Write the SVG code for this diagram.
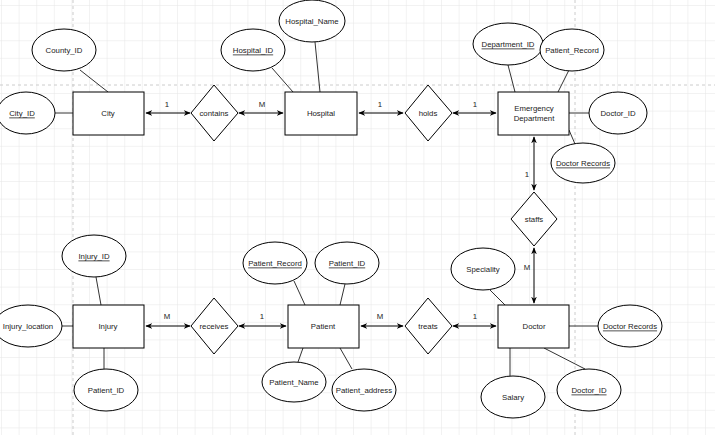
<svg xmlns="http://www.w3.org/2000/svg" width="715" height="435" viewBox="0 0 715 435">
<defs>
<pattern id="g" width="17.6" height="17.6" patternUnits="userSpaceOnUse" x="2" y="6"><path d="M17.6 0V17.6M0 17.6H17.6" fill="none" stroke="#e6e6e6" stroke-width="1"/></pattern>
<marker id="a" viewBox="0 0 10 10" refX="9" refY="5" markerWidth="7" markerHeight="7" orient="auto-start-reverse"><path d="M0 1L10 5L0 9L3 5Z" fill="#000"/></marker>
</defs>
<style>
.e{fill:#fff;stroke:#000;stroke-width:1}
.r{fill:#fff;stroke:#000;stroke-width:1}
.t{font-family:"Liberation Sans",Arial,sans-serif;font-size:7.8px;text-anchor:middle;dominant-baseline:central;fill:#222}
.u{text-decoration:underline}
.l{stroke:#333;stroke-width:1;fill:none}
.c{stroke:#000;stroke-width:1;fill:none;marker-start:url(#a);marker-end:url(#a)}
</style>
<rect width="715" height="435" fill="#fff"/>
<rect width="715" height="435" fill="url(#g)"/>
<g stroke="#ccc" stroke-dasharray="3,3"><path d="M73 0V435M575 0V435M0 85H715"/></g>
<g id="connectors">
<path class="l" d="M55 113H73M80 70L108 92M272 68L293 92M315 42L320 92M508 65L515 92M569 70L558 92M569 113H589M569 130L575 144M62 326H73M96 277L101 305M104 348V369M294 281L305 305M345 284L340 305M303 348L298 362M340 348L352 369M490 290L505 305M569 326H598M510 348V376M544 348L585 369"/>
<path class="c" d="M146 113H190"/><path class="c" d="M239 113H283"/>
<path class="c" d="M359 113H403"/><path class="c" d="M453 113H496"/>
<path class="c" d="M534 137V190"/><path class="c" d="M534 248V303"/>
<path class="c" d="M146 326H190"/><path class="c" d="M239 326H286"/>
<path class="c" d="M361 326H403"/><path class="c" d="M453 326H496"/>
<text class="t" x="167" y="104">1</text><text class="t" x="262" y="104">M</text>
<text class="t" x="380" y="104">1</text><text class="t" x="475" y="104">1</text>
<text class="t" x="527" y="174">1</text><text class="t" x="527" y="267">M</text>
<text class="t" x="167" y="316">M</text><text class="t" x="262" y="316">1</text>
<text class="t" x="380" y="316">M</text><text class="t" x="475" y="316">1</text>
</g>
<g id="city"><rect class="r" x="73" y="92" width="71" height="43"/><text class="t" x="108" y="113">City</text></g>
<g id="city_id"><ellipse class="e" cx="26" cy="113" rx="29" ry="21"/><text class="t u" x="22" y="113">City_ID</text></g>
<g id="county_id"><ellipse class="e" cx="64" cy="50" rx="32" ry="21"/><text class="t" x="64" y="50">County_ID</text></g>
<g id="contains"><path class="r" d="M214 85L238 113L214 141L191 113Z"/><text class="t" x="214" y="113">contains</text></g>
<g id="hospital"><rect class="r" x="285" y="92" width="72" height="43"/><text class="t" x="321" y="113">Hospital</text></g>
<g id="hospital_id"><ellipse class="e" cx="253" cy="50" rx="32" ry="21"/><text class="t u" x="253" y="50">Hospital_ID</text></g>
<g id="hospital_name"><ellipse class="e" cx="312" cy="21" rx="33" ry="21"/><text class="t" x="312" y="21">Hospital_Name</text></g>
<g id="holds"><path class="r" d="M428 85L452 113L428 141L405 113Z"/><text class="t" x="428" y="113">holds</text></g>
<g id="ed"><rect class="r" x="498" y="92" width="71" height="43"/><text class="t" x="534" y="108">Emergency</text><text class="t" x="534" y="118">Department</text></g>
<g id="department_id"><ellipse class="e" cx="508" cy="44" rx="35" ry="21"/><text class="t u" x="508" y="44">Department_ID</text></g>
<g id="patient_record_ed"><ellipse class="e" cx="572" cy="50" rx="32" ry="21"/><text class="t" x="572" y="50">Patient_Record</text></g>
<g id="doctor_id_ed"><ellipse class="e" cx="618" cy="113" rx="29" ry="21"/><text class="t" x="618" y="113">Doctor_ID</text></g>
<g id="doctor_records_ed"><ellipse class="e" cx="583" cy="163" rx="32" ry="20"/><text class="t u" x="583" y="163">Doctor Records</text></g>
<g id="staffs"><path class="r" d="M534 192L557 219L534 246L511 219Z"/><text class="t" x="534" y="219">staffs</text></g>
<g id="injury"><rect class="r" x="73" y="305" width="71" height="43"/><text class="t" x="108" y="326">Injury</text></g>
<g id="injury_location"><ellipse class="e" cx="28" cy="326" rx="34" ry="21"/><text class="t" x="28" y="326">Injury_location</text></g>
<g id="injury_id"><ellipse class="e" cx="94" cy="256" rx="32" ry="21"/><text class="t u" x="94" y="256">Injury_ID</text></g>
<g id="patient_id_inj"><ellipse class="e" cx="106" cy="390" rx="32" ry="21"/><text class="t" x="106" y="390">Patient_ID</text></g>
<g id="receives"><path class="r" d="M214 298L238 326L214 354L191 326Z"/><text class="t" x="214" y="326">receives</text></g>
<g id="patient"><rect class="r" x="288" y="305" width="71" height="43"/><text class="t" x="323" y="326">Patient</text></g>
<g id="patient_record"><ellipse class="e" cx="275" cy="263" rx="32" ry="21"/><text class="t u" x="275" y="263">Patient_Record</text></g>
<g id="patient_id"><ellipse class="e" cx="347" cy="263" rx="32" ry="21"/><text class="t u" x="347" y="263">Patient_ID</text></g>
<g id="patient_name"><ellipse class="e" cx="294" cy="382" rx="32" ry="20"/><text class="t" x="294" y="382">Patient_Name</text></g>
<g id="patient_address"><ellipse class="e" cx="364" cy="390" rx="32" ry="21"/><text class="t" x="364" y="390">Patient_address</text></g>
<g id="treats"><path class="r" d="M428 298L452 326L428 354L405 326Z"/><text class="t" x="428" y="326">treats</text></g>
<g id="doctor"><rect class="r" x="498" y="305" width="71" height="43"/><text class="t" x="534" y="326">Doctor</text></g>
<g id="speciality"><ellipse class="e" cx="483" cy="269" rx="32" ry="21"/><text class="t" x="483" y="269">Speciality</text></g>
<g id="doctor_records"><ellipse class="e" cx="630" cy="326" rx="32" ry="21"/><text class="t u" x="630" y="326">Doctor Records</text></g>
<g id="salary"><ellipse class="e" cx="513" cy="397" rx="32" ry="21"/><text class="t" x="513" y="397">Salary</text></g>
<g id="doctor_id"><ellipse class="e" cx="589" cy="390" rx="32" ry="21"/><text class="t u" x="589" y="390">Doctor_ID</text></g>
</svg>
